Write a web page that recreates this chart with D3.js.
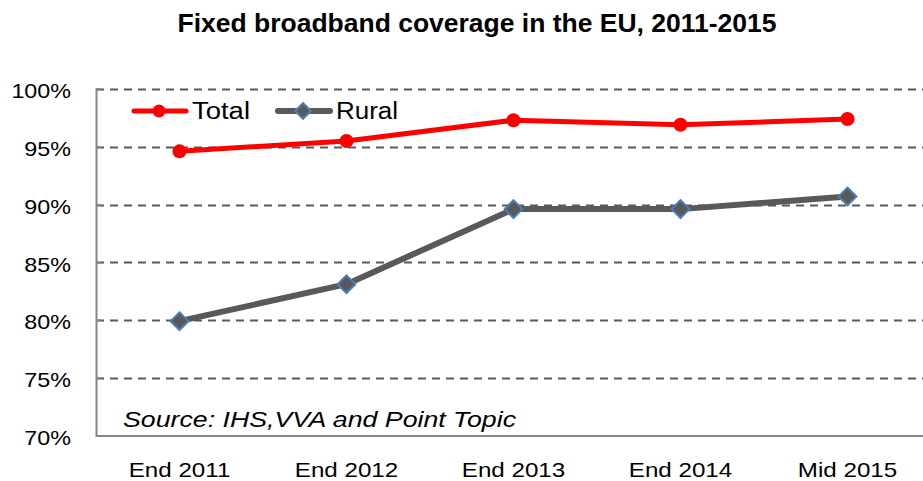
<!DOCTYPE html>
<html>
<head>
<meta charset="utf-8">
<script src="https://cdn.jsdelivr.net/npm/d3@7"></script>
<style>
  body { margin: 0; background: #fff; }
  svg { display: block; }
</style>
</head>
<body>
<div id="chart"></div>
<script>
// data
const periods = ["End 2011", "End 2012", "End 2013", "End 2014", "Mid 2015"];
const totalCoverage = [94.6, 95.5, 97.3, 96.9, 97.4];
const ruralCoverage = [79.9, 83.1, 89.6, 89.6, 90.7];
const yTicks = [70, 75, 80, 85, 90, 95, 100];

const width = 923, height = 481;
const margin = { top: 89, bottom: 45, left: 96, right: -8 };
const font = "Liberation Sans, Arial, sans-serif";

const svg = d3.select("#chart").append("svg")
  .attr("width", width)
  .attr("height", height);

// the picture is a bit wider than the fonts, so stretch text horizontally
function stretch(sel, factor) {
  sel.each(function () {
    const w = this.getComputedTextLength();
    d3.select(this).attr("textLength", w * factor).attr("lengthAdjust", "spacingAndGlyphs");
  });
}

const x = d3.scaleBand()
  .domain(periods)
  .range([margin.left, width - margin.right]);

const y = d3.scaleLinear()
  .domain([70, 100])
  .range([height - margin.bottom - 0.5, margin.top]);

// title
svg.append("text")
  .attr("x", 477).attr("y", 32)
  .attr("text-anchor", "middle")
  .attr("font-family", font)
  .attr("font-weight", "bold")
  .attr("font-size", 25)
  .attr("textLength", 599)
  .attr("lengthAdjust", "spacingAndGlyphs")
  .text("Fixed broadband coverage in the EU, 2011-2015");

// gridlines
svg.append("g")
  .selectAll("line")
  .data(yTicks.filter(d => d > 70))
  .join("line")
  .attr("x1", margin.left).attr("x2", width)
  .attr("y1", d => Math.round(y(d)) + 0.5)
  .attr("y2", d => Math.round(y(d)) + 0.5)
  .attr("stroke", "#595959")
  .attr("stroke-width", 2)
  .attr("stroke-dasharray", "8,6");

// y axis
const yAxis = svg.append("g")
  .attr("transform", `translate(${margin.left},0)`)
  .call(d3.axisLeft(y).tickValues(yTicks).tickFormat(d => d + "%").tickSize(-5).tickPadding(25));
yAxis.select(".domain").attr("stroke", "#868686").attr("stroke-width", 2);
yAxis.selectAll(".tick line").attr("stroke", "#868686").attr("stroke-width", 2);
yAxis.selectAll("text")
  .attr("font-family", font)
  .attr("font-size", 21)
  .attr("dy", "0.42em")
  .attr("fill", "#000")
  .call(stretch, 1.11);

// x axis
const xAxis = svg.append("g")
  .attr("transform", `translate(0,${y(70)})`)
  .call(d3.axisBottom(x).tickSize(0).tickPadding(27));
xAxis.select(".domain").attr("stroke", "#868686").attr("stroke-width", 2);
xAxis.selectAll("text")
  .attr("font-family", font)
  .attr("font-size", 21)
  .attr("fill", "#000")
  .call(stretch, 1.15);

const cx = d => x(d) + x.bandwidth() / 2;

const line = d3.line()
  .x(d => cx(d[0]))
  .y(d => y(d[1]));

// rural series
const ruralData = periods.map((p, i) => [p, ruralCoverage[i]]);
svg.append("path")
  .datum(ruralData)
  .attr("d", line)
  .attr("fill", "none")
  .attr("stroke", "#595959")
  .attr("stroke-width", 6)
  .attr("stroke-linejoin", "round");

const diamond = d3.symbol().type(d3.symbolDiamond2).size(200);
svg.append("g")
  .selectAll("path")
  .data(ruralData)
  .join("path")
  .attr("d", diamond)
  .attr("transform", d => `translate(${cx(d[0])},${y(d[1])})`)
  .attr("fill", "#595959")
  .attr("stroke", "#4a7ebb")
  .attr("stroke-width", 2);

// total series
const totalData = periods.map((p, i) => [p, totalCoverage[i]]);
svg.append("path")
  .datum(totalData)
  .attr("d", line)
  .attr("fill", "none")
  .attr("stroke", "#ff0000")
  .attr("stroke-width", 5)
  .attr("stroke-linejoin", "round");

svg.append("g")
  .selectAll("circle")
  .data(totalData)
  .join("circle")
  .attr("cx", d => cx(d[0]))
  .attr("cy", d => y(d[1]))
  .attr("r", 7)
  .attr("fill", "#ff0000");

// legend
const legend = svg.append("g").attr("font-family", font).attr("font-size", 23);
legend.append("line").attr("x1", 134).attr("x2", 186).attr("y1", 111).attr("y2", 111)
  .attr("stroke", "#ff0000").attr("stroke-width", 5).attr("stroke-linecap", "round");
legend.append("circle").attr("cx", 159).attr("cy", 111).attr("r", 6.5).attr("fill", "#ff0000");
legend.append("text").attr("x", 192).attr("y", 119).attr("textLength", 58)
  .attr("lengthAdjust", "spacingAndGlyphs").text("Total");
legend.append("line").attr("x1", 278).attr("x2", 330).attr("y1", 111).attr("y2", 111)
  .attr("stroke", "#595959").attr("stroke-width", 6).attr("stroke-linecap", "round");
legend.append("path").attr("d", d3.symbol().type(d3.symbolDiamond2).size(160)).attr("transform", "translate(303,111)")
  .attr("fill", "#595959").attr("stroke", "#4a7ebb").attr("stroke-width", 2);
legend.append("text").attr("x", 336).attr("y", 119).attr("textLength", 62)
  .attr("lengthAdjust", "spacingAndGlyphs").text("Rural");

// source note
svg.append("text")
  .attr("x", 123).attr("y", 427)
  .attr("font-family", font)
  .attr("font-style", "italic")
  .attr("font-size", 22)
  .attr("textLength", 393)
  .attr("lengthAdjust", "spacingAndGlyphs")
  .text("Source: IHS,VVA and Point Topic");
</script>
</body>
</html>
